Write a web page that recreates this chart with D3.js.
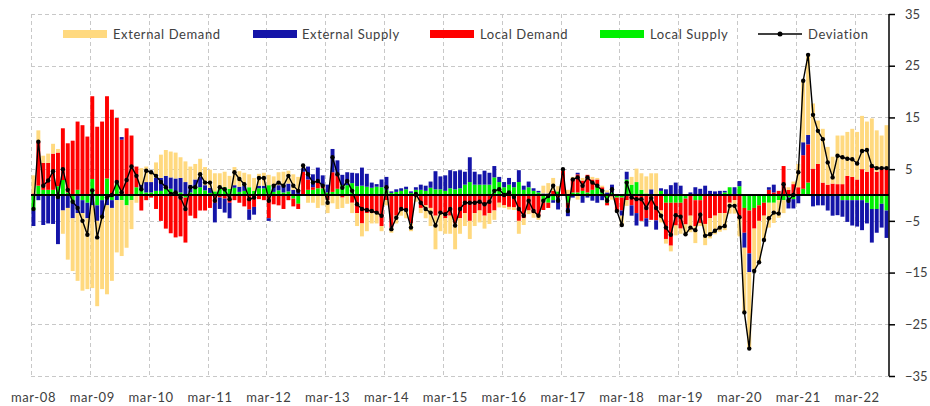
<!DOCTYPE html>
<html>
<head>
<meta charset="utf-8">
<script src="https://cdn.jsdelivr.net/npm/d3@7"></script>
<style>
  body { margin: 0; background: #fff; }
  svg text { font-family: Lato, "Open Sans", sans-serif; fill: #404040; }
</style>
</head>
<body>
<svg id="chart" width="930" height="406"></svg>
<script>
// Monthly contributions, March 2008 to September 2022 (one row per calendar year)
const externalDemand = [
  3.5, 2.2, 1.4, 1.8, 1.9, 0.7, -4.5, -10, -10.2, -13.1,
  -15, -13.7, -16, -16.5, -14.2, -17.2, -14.1, -10.1, -10.8, -8.2, -5.6, -1.5,
  3.2, 3, 2.2, 3, 4.5, 5, 5, 5, 4, 4, 3.5, 3,
  3.5, 3.5, 3.5, 3.5, 3, 3, 2.5, 3.5, 3, 2.5, 2.5, 2.5,
  2.3, 2.5, 2, 2, 2.5, 2.5, 2.5, 3, 2.5, 0.5, -1.5, -1.5,
  -2.5, -2, -2.5, -1.6, -2.7, -2, -1.5, -2, -2.5, -2.5, -3.5, -2,
  -2, -1, -1, -1, -1.5, -1.5, -1.5, -1.5, -0.8, -1, -2.5, -3.5,
  -6.5, -3.5, -3, -3.5, -5, -3, -2.5, -3.5, -2.5, -2.3, -2.5, -2.1,
  -1.8, -0.9, -0.5, -0.5, -0.5, -2.5, -1.3, -0.7, -0.9, -0.8, 1.5, 2,
  2.5, 1, 0.3, 1, 0.5, -0.9, 0.5, 0, 0.5, 0.3, 0.3, 0.4,
  -0.6, -0.3, -1.8, -1.1, 1.5, 2.6, 3.2, 3.3, 3.1, 4.2, -2.3, -0.9,
  -1.1, -1.9, -1, -1.9, -3.2, -3.3, -0.6, -4.1, -3.9, -3.6, -3.6, -3.3,
  -2.1, -2.6, -3.5, -12.5, -14.8, -8.2, -8, -4.7, -4.8, -3.9, -3.4, -2.5,
  0.5, 0.5, 4.5, 12, 15.5, 12.6, 8.4, 10.4, 7.3, 5.2, 9.4, 9.4,
  8.5, 9.3, 9.2, 10.3, 9.7, 9.2, 8, 6.5, 8.5
];
const externalSupply = [
  -3, -1, -5.8, -5.5, -5.6, -9.5, -3, -2.5, -3, -3.5,
  -2.5, -3, -2, -3, -3, -2, -1.5, -1, 0.5, 0, 0, 0,
  1, 2, 2, 2.5, 2.5, 2.5, 2.2, 2.5, 2.8, 2.5, 1.5, 1.5,
  2, 1, 1, -3.8, -2.2, -2.7, -3, 0.5, 1, 1, -2, -1.5,
  0.5, 0.5, -0.5, 1, 1, 1.5, 1.5, 1, 1, 0.7, 2.5, 2.5,
  2.5, 2, 1.5, 4.5, 3, 2, 2.5, 2, 2.5, 3.5, 2.5, 1,
  0.5, 1.5, 2.5, 0.3, 0.5, 0.5, 0.5, 0.3, 0.5, 1, 1, 1.2,
  3.5, 2.5, 3, 3.5, 3.5, 3.5, 2.5, 4.8, 2.5, 2, 2.7, 2.3,
  2.2, 1, 1, 1.3, 1, 2.3, 0.8, 1.1, 0.5, 0.3, 0.3, 0.3,
  -0.5, -2.3, 0, -1.6, -0.5, 0.3, -1.5, -0.5, -1.1, -1.5, -1, 0.5,
  1.5, 0.2, -1, 1.5, -2, -2.4, 0, -1.6, 1.1, -1.8, 0.5, 1.1,
  1.9, 2.4, 1.8, 0, 0.5, 1.5, 1.2, 1.8, 0.8, 0.7, 0.8, 0.3,
  0, 1.5, 1, -2.9, -3.6, 0, 0, 0, 0.5, 1.5, 0, 0,
  -2.1, -1.8, -1.6, 2.5, 1.8, -2.2, -2, -2, -3, -4, -3.9, -3.2,
  -4.2, -4.9, -5.1, -5.8, -4, -6.5, -4.6, -4.6, -5.3
];
const localDemand = [
  0.3, 8.5, 5.2, 5.2, 7, 6.5, 10, 9.5, 10.5, 13.2,
  13.5, 11.3, 16, 13.2, 14.2, 15.9, 16.5, 12.5, 10.7, 12.9, 11.5, 4,
  -3, -1, -0.5, -2.7, -5, -6.5, -7.4, -8.2, -8, -8.7, -4, -4.5,
  -3, -3, -2.5, -1.5, -0.5, -0.7, -1.5, -1, -1.5, -2.2, -2.8, -2.3,
  -0.8, -1, -4.5, -1.8, -2, -2.7, -1, -1.5, -1, 4.5, 2, 0.5,
  1.5, 0.5, -1, 3.8, 2.5, -0.5, -0.2, -1.5, -3.5, -5.5, -3.5, -3.5,
  -3.5, -6, -1, -6.3, -4, -2.5, -3, -5.5, -0.5, -2.5, -2, -2.5,
  -4, -3.5, -4.5, -4, -5.5, -4.5, -3.5, -5, -3.5, -3, -4, -3.5,
  -3, -1.5, -2, -2.3, -2.4, -5, -4.5, -3, -3.5, -4, -1.5, -1,
  0.8, -0.5, 4.7, -1, 2.5, 3.5, 2, 3.4, 2, 1.2, 0.5, -0.5,
  -0.3, -2.5, -2.5, -1, -2, -3.5, -5, -4.5, -4.8, -4.9, -3, -7,
  -8.3, -4.4, -5, -5, -4, -5, -4.4, -5.6, -4.5, -4, -3.5, -3.5,
  -1.5, -1, -4.5, -4.8, -8.3, -4, -3, -2.5, 1, 0.5, 0.8, 5.6,
  1, 2.1, 1.5, 6.5, 7.4, 5.1, 6, 2.4, 2, 2.2, 2.1, 2.1,
  3.7, 3.5, 3, 5, 4.5, 5.6, 4.5, 5, 5
];
const localSupply = [
  -3, 1.8, 1, 1, 1, 1.7, 2.9, 0.5, -1.5, 1,
  -1, -1.5, 3.1, -2, -1, 3.2, -1, 2.4, -1, -2, -1, 1.5,
  1, 0.5, 0.5, 0.8, 0.8, 1.2, 1.2, 0.7, 0.5, -0.5, 0.5, 1.5,
  1.5, 0.9, 0.4, 0.7, 1.2, 1.5, 1.2, 1.4, 0.6, 0.8, 1.5, 0.8,
  1.3, 1.3, 1.9, 0.6, 0.9, 0.5, 0.7, -0.7, -1.7, 0, 1, 1,
  1.3, 1.3, 0.5, 0.6, 1.2, 1.9, 1.9, 2.3, 1.7, 1.8, 1.6, 1.4,
  1.6, 1.5, 1, 0.4, 0.6, 0.8, 1.1, 0.4, 1, 1, 0.8, 1.4,
  1.1, 1.1, 0.8, 1.3, 1.1, 1.3, 2, 2.5, 2, 2, 2, 2,
  3.4, 2.5, 1.5, 2, 1.5, 2.5, 1, 1.5, 0.8, 0.5, -1.4, -1.5,
  -1, 0.7, 0, -1.5, 0.5, 0.5, 0.8, 0.5, 1, 1.8, 1, -1.5,
  0.5, -0.5, -0.5, 3, 2, 2.5, 1, 0.3, 0, 0, 0.8, -1.5,
  -1.5, -1.5, -1.5, -0.7, 0, -1, -1, 0, 0, 0, 0, 0.5,
  1.5, 0, 1.7, -2.5, -3, -2.5, -2, -1.5, -1.5, -1.5, -1, -1,
  -0.5, -0.8, 0, 1.2, 2.4, 0, 0, 0, 0, 0, 0, -1,
  -1, -1, -1, -1, -1.5, -2.7, -2.7, -1.7, -3
];
const deviation = [
  -2.7, 10.3, 1.8, 2.8, 4.6, -0.4, 5, 1, -1.3, -2.5,
  -5, -7.7, 0.9, -8.2, -4.2, -0.5, 0, 2.5, 0.5, 2.9, 5.5, 3.7,
  1.1, 4.7, 4.4, 3.7, 2.5, 1.5, 0.2, 0.5, -0.5, -2.7, 1.5, 1.5,
  4, 2.4, 2.4, -1.1, 1.5, 1.1, -0.8, 4.4, 3.1, 2.1, -0.8, -0.5,
  3.3, 3.3, -1.1, 1.8, 2.4, 1.8, 3.7, 1.8, 0.8, 5.7, 4, 2.4,
  2.7, 1.8, -1.5, 7.3, 4, 1.4, 2.7, 0.8, -1.8, -2.7, -2.9, -3.1,
  -3.4, -4, 1.5, -6.6, -4.4, -2.7, -2.9, -6.3, 0.2, -1.5, -2.7, -3.4,
  -5.9, -3.4, -3.7, -2.7, -5.9, -2.7, -1.5, -1.5, -1.5, -1.3, -1.8, -1.3,
  0.8, 1.1, 0, 0.5, -0.4, -2.7, -4, -1.1, -3.1, -4, -1.1, -0.2,
  1.8, -1.1, 5, -3.1, 3, 3.4, 1.8, 3.4, 2.4, 1.8, 0.8, -1.1,
  1.1, -3.1, -5.8, 2.4, -0.5, -0.8, -0.8, -2.5, -0.6, -2.5, -4, -6.3,
  -7.7, -3.9, -4.2, -7.6, -6.3, -6.8, -3.8, -7.9, -7.6, -6.9, -6.3, -6,
  -2.1, -2.1, -4.3, -22.7, -29.7, -14.7, -13, -8.7, -4.5, -3.4, -3.6, 2.1,
  -1.1, 0, 4.4, 22.1, 27.1, 15.5, 12.4, 10.8, 6.3, 3.4, 7.6, 7.3,
  7, 6.9, 6.1, 8.5, 8.7, 5.6, 5.2, 5.2, 5.2
];

const xTickLabels = ["mar-08","mar-09","mar-10","mar-11","mar-12","mar-13","mar-14",
                     "mar-15","mar-16","mar-17","mar-18","mar-19","mar-20","mar-21","mar-22"];
const yTicks = [-35, -25, -15, -5, 5, 15, 25, 35];
const seriesNames = ["External Demand", "External Supply", "Local Demand", "Local Supply"];
const seriesColors = ["#FFD97F", "#1414A8", "#FF0000", "#00F000"];

// Month keys, one per observation, starting March 2008
const months = externalDemand.map((_, i) => {
  const m = 2 + i; // 0-based month number counted from January 2008
  return `${2008 + Math.floor(m / 12)}-${String(m % 12 + 1).padStart(2, "0")}`;
});

const rows = months.map((m, i) => ({
  month: m,
  "Local Supply": localSupply[i],
  "Local Demand": localDemand[i],
  "External Supply": externalSupply[i],
  "External Demand": externalDemand[i],
  dev: deviation[i]
}));

const svg = d3.select("#chart");
const plotLeft = 31, plotRight = 889, plotTop = 14, plotBottom = 376;

const x = d3.scaleBand().domain(months).range([plotLeft, plotRight])
  .paddingInner(0.2).paddingOuter(0.1);
const step = x.step();
const slotStart = m => x(m) - step * 0.1;
const y = d3.scaleLinear().domain([-35, 35]).range([plotBottom, plotTop]);

// Gridlines
const grid = svg.append("g").attr("stroke", "#C8C8C8").attr("stroke-width", 1)
  .attr("stroke-dasharray", "4,3");
grid.selectAll("line.h").data(yTicks).join("line")
  .attr("x1", plotLeft).attr("x2", plotRight)
  .attr("y1", d => Math.round(y(d)) + 0.5).attr("y2", d => Math.round(y(d)) + 0.5);
const yearStarts = months.filter((m, i) => i % 12 === 0);
grid.selectAll("line.v").data(yearStarts).join("line")
  .attr("y1", plotTop).attr("y2", plotBottom)
  .attr("x1", d => Math.round(slotStart(d)) + 0.5).attr("x2", d => Math.round(slotStart(d)) + 0.5);

// Stacked contribution bars (positive and negative parts stacked separately)
const stackKeys = ["Local Supply", "Local Demand", "External Supply", "External Demand"];
const stacked = d3.stack().keys(stackKeys).offset(d3.stackOffsetDiverging)(rows);
const color = d3.scaleOrdinal().domain(seriesNames).range(seriesColors);

svg.append("g").selectAll("g").data(stacked).join("g")
  .attr("fill", s => color(s.key))
  .selectAll("rect").data(s => s).join("rect")
  .attr("x", d => x(d.data.month))
  .attr("width", x.bandwidth())
  .attr("y", d => y(Math.max(d[0], d[1])))
  .attr("height", d => Math.abs(y(d[0]) - y(d[1])));

// Zero line
svg.append("line").attr("x1", plotLeft).attr("x2", plotRight)
  .attr("y1", y(0)).attr("y2", y(0))
  .attr("stroke", "#000").attr("stroke-width", 2);

// Deviation line with markers
const cx = d => x(d.month) + x.bandwidth() / 2;
svg.append("path").datum(rows)
  .attr("fill", "none").attr("stroke", "#000").attr("stroke-width", 1.4)
  .attr("d", d3.line().x(cx).y(d => y(d.dev)));
svg.append("g").selectAll("circle").data(rows).join("circle")
  .attr("cx", cx).attr("cy", d => y(d.dev)).attr("r", 2.2).attr("fill", "#000");

// Right value axis
const yAxis = svg.append("g").attr("transform", `translate(${plotRight},0)`)
  .call(d3.axisRight(y).tickValues(yTicks).tickSize(6).tickPadding(10).tickFormat(d3.format("d")));
yAxis.select(".domain").attr("stroke", "#000").attr("stroke-width", 1.5)
  .attr("d", `M0,${plotTop}V${plotBottom}`);
yAxis.selectAll(".tick line").attr("stroke", "#000").attr("stroke-width", 1.5);
yAxis.selectAll("text").attr("font-size", 13).style("font-family", "Lato, sans-serif")
  .attr("fill", "#404040");

// Category labels, one per year
const labelMonths = months.filter((m, i) => i % 12 === 0);
const xAxis = svg.append("g").attr("transform", `translate(0,${plotBottom})`)
  .call(d3.axisBottom(x).tickValues(labelMonths).tickSize(0).tickPadding(17)
    .tickFormat((d, i) => xTickLabels[i]));
xAxis.select(".domain").remove();
xAxis.selectAll("text").attr("font-size", 13).style("font-family", "Lato, sans-serif")
  .attr("letter-spacing", "0.6px").attr("fill", "#404040");

// Legend
const legendItems = [
  { name: "External Demand", sx: 63, tx: 113 },
  { name: "External Supply", sx: 253, tx: 302 },
  { name: "Local Demand", sx: 430, tx: 480 },
  { name: "Local Supply", sx: 600, tx: 650 }
];
const legend = svg.append("g");
legend.selectAll("rect").data(legendItems).join("rect")
  .attr("x", d => d.sx).attr("y", 30).attr("width", 44).attr("height", 8)
  .attr("fill", d => color(d.name));
legend.selectAll("text.s").data(legendItems).join("text")
  .attr("x", d => d.tx).attr("y", 38.5).attr("font-size", 13)
  .attr("letter-spacing", "0.6px").text(d => d.name);
legend.append("line").attr("x1", 758).attr("x2", 802).attr("y1", 34).attr("y2", 34)
  .attr("stroke", "#000").attr("stroke-width", 1.4);
legend.append("circle").attr("cx", 780).attr("cy", 34).attr("r", 2.5).attr("fill", "#000");
legend.append("text").attr("x", 808).attr("y", 38.5).attr("font-size", 13)
  .attr("letter-spacing", "0.6px").text("Deviation");
</script>
</body>
</html>
